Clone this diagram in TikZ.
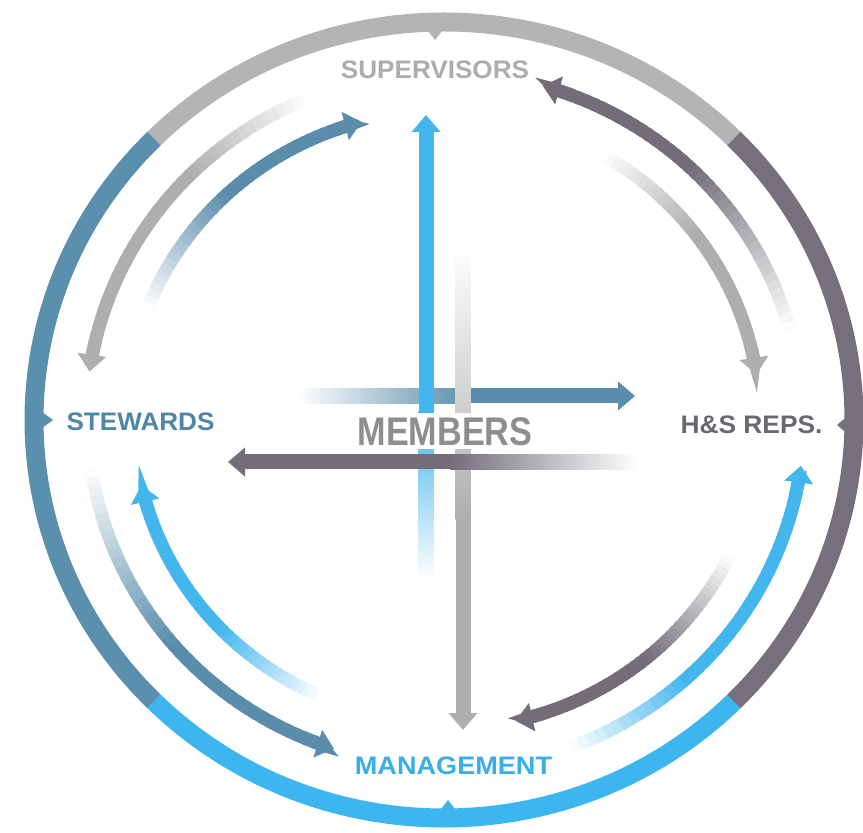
\documentclass[tikz,border=0pt]{standalone}
\usepackage{fontspec}
\setmainfont{Liberation Sans}
\usetikzlibrary{arrows.meta}
\definecolor{ringgray}{HTML}{B4B4B6}
\definecolor{ringsteel}{HTML}{5B8FAE}
\definecolor{ringblue}{HTML}{3DB5EE}
\definecolor{ringpurple}{HTML}{76707D}
\definecolor{agray}{HTML}{AEAEAE}
\definecolor{asteel}{HTML}{5A8DAC}
\definecolor{ablue}{HTML}{43B6EE}
\definecolor{apurple}{HTML}{736D7A}
\definecolor{tsup}{HTML}{ADADAD}
\definecolor{tstew}{HTML}{4E86A8}
\definecolor{ths}{HTML}{6A6770}
\definecolor{tmem}{HTML}{8E8E8E}
\definecolor{tman}{HTML}{3AAEE6}
\newcommand\fadearc[5]{% color, x radius, tail angle, tip angle, fade fraction
  \pgfmathsetmacro\FAdir{#4>#3 ? 1 : -1}
  \pgfmathsetmacro\FAhead{14/#2*57.2958}
  \pgfmathsetmacro\FAbody{#4-\FAdir*\FAhead}
  \pgfmathsetmacro\FAyr{#2*0.971}
  \foreach \i in {0,...,39}{
    \pgfmathsetmacro\FAa{#3+(\FAbody-#3)*\i/40}
    \pgfmathsetmacro\FAb{#3+(\FAbody-#3)*min(1,(\i+1.6)/40)}
    \pgfmathtruncatemacro\FAp{min(100,100*(\i+0.5)/(40*#5))}
    \draw[arcline, color=#1!\FAp!white] (\FAa:#2 and \FAyr) arc[start angle=\FAa, end angle=\FAb, x radius=#2, y radius=\FAyr];
  }
  \pgfmathsetmacro\FAc{\FAbody-\FAdir*3}
  \draw[arcline, color=#1, -{Triangle[width=21pt,length=12.75pt]}] (\FAc:#2 and \FAyr) arc[start angle=\FAc, end angle=#4, x radius=#2, y radius=\FAyr];
}
\begin{document}
\begin{tikzpicture}[x=0.75pt,y=0.75pt,
  ringline/.style={line width=14.25pt},
  arcline/.style={line width=9.75pt},
  barline/.style={line width=11.25pt},
  headtip/.style={-{Triangle[width=21pt,length=12.75pt]}},
  lab/.style={inner sep=0pt, anchor=base, font=\bfseries\fontsize{19}{19}\selectfont}]
\useasboundingbox (0,0) rectangle (863,832);
\fill[white] (0,0) rectangle (863,832);
\coordinate (C) at (444,412);
\begin{scope}[shift={(C)}]
  % outer ring
  \draw[ringline, ringgray]   (45:410 and 398) arc[start angle=45, end angle=135, x radius=410, y radius=398];
  \draw[ringline, ringsteel]  (135:410 and 398) arc[start angle=135, end angle=225, x radius=410, y radius=398];
  \draw[ringline, ringblue]   (225:410 and 398) arc[start angle=225, end angle=315, x radius=410, y radius=398];
  \draw[ringline, ringpurple] (315:410 and 398) arc[start angle=315, end angle=405, x radius=410, y radius=398];
  % notches
  \fill[ringgray]   (-20,394) -- (-9,380) -- (2,394) -- cycle;
  \fill[ringsteel]  (-406,-11) -- (-391,0) -- (-406,11) -- cycle;
  \fill[ringblue]   (-7,-394) -- (4,-380) -- (15,-394) -- cycle;
  \fill[ringpurple] (406,-16) -- (393,-5) -- (406,6) -- cycle;
  % quadrant arcs
  \fadearc{agray}{358}{112}{172}{0.4}
  \fadearc{asteel}{318}{159}{105}{0.5}
  \fadearc{apurple}{358}{15}{74}{0.55}
  \fadearc{agray}{316}{60}{8.5}{0.46}
  \fadearc{asteel}{356}{188}{252}{0.52}
  \fadearc{ablue}{310}{247}{192.5}{0.45}
  \fadearc{ablue}{360}{290.5}{352.5}{0.36}
  \fadearc{apurple}{318}{334}{283}{0.5}
\end{scope}
% centre cross
\coordinate (steelS) at (297,436);
\coordinate (steelT) at (635,436);
\shade[left color=white, right color=asteel] (297,428.5) rectangle (470,443.5);
\draw[barline, asteel, headtip] (469,436) -- (steelT);
\shade[bottom color=white, top color=ablue] (418.5,252) rectangle (433.5,420);
\coordinate (blueT) at (426,717);
\draw[barline, ablue, headtip] (426,419) -- (blueT);
\shade[top color=white, bottom color=agray] (455.5,589) rectangle (470.5,312);
\coordinate (grayT) at (463,102);
\draw[barline, agray, headtip] (463,313) -- (grayT);
\node[fill=white, inner xsep=4pt, inner ysep=2.8pt, text height=21.5pt, text depth=0pt, anchor=base,
      font=\bfseries\fontsize{30}{30}\selectfont, text=tmem] (members) at (445,386.5) {\scalebox{0.855}[1]{MEMBERS}};
\shade[left color=apurple, right color=white] (450,362.5) rectangle (637,377.5);
\coordinate (purpT) at (228,370);
\draw[barline, apurple, headtip] (452,370) -- (purpT);
% labels
\node[lab, text=tsup]  (sup)  at (435,753) {\scalebox{1.03}[1]{SUPERVISORS}};
\node[lab, text=tstew] (stew) at (140.5,401) {\scalebox{1.03}[1]{STEWARDS}};
\node[lab, text=ths]   (hs)   at (751.5,398) {\scalebox{1.04}[1]{H\&S REPS.}};
\node[lab, text=tman]  (man)  at (453.5,58) {\scalebox{1.07}[1]{MANAGEMENT}};
\end{tikzpicture}
\end{document}
